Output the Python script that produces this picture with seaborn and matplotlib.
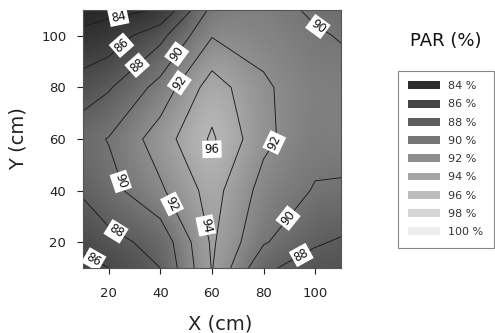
import numpy as np
import matplotlib
matplotlib.use("Agg")
import matplotlib.pyplot as plt
from matplotlib.colors import Normalize
from matplotlib.patches import Patch
import seaborn as sns

# Measurement grid (cm) and PAR values (% of open sky) at each node, rows ordered by Y
x_cm = [10, 20, 40, 60, 80, 100, 110]
y_cm = [10, 20, 40, 60, 80, 100, 110]
par_y10 = [85.6, 86.0, 88.0, 94.1, 88.3, 87.2, 87.0]
par_y20 = [86.3, 87.45, 88.6, 94.3, 90.2, 88.2, 87.8]
par_y40 = [88.3, 89.3, 91.7, 94.8, 91.26, 89.86, 89.7]
par_y60 = [89.3, 90.1, 93.0, 96.3, 92.47, 90.6, 90.9]
par_y80 = [86.9, 87.8, 90.7, 95.0, 92.3, 90.8, 90.9]
par_y100 = [84.4, 84.8, 87.44, 91.9, 91.3, 90.3, 89.85]
par_y110 = [83.3, 83.6, 84.1, 90.6, 91.0, 89.6, 89.3]

contour_levels = [84, 86, 88, 90, 92, 94, 96]
legend_levels = [84, 86, 88, 90, 92, 94, 96, 98, 100]
legend_labels = [f"{v} %" for v in legend_levels]

# where the contour values are printed
label_spots = [(24, 106), (25.5, 95.7), (14, 13), (32, 87.5), (23.6, 25.5),
               (92.8, 18.3), (46.8, 92.6), (26, 44), (86.4, 31.8), (100, 102),
               (47.6, 81.6), (43.7, 34.4), (82, 60), (60, 27), (58.5, 54)]

sns.set_theme(style="ticks")
plt.rcParams["font.family"] = ["DejaVu Sans"]

X = np.array(x_cm, float)
Y = np.array(y_cm, float)
Z = np.array([par_y10, par_y20, par_y40, par_y60, par_y80, par_y100, par_y110])

# smooth shaded background: bilinear resampling of the grid, then a soft blur
n = 400
fx = np.linspace(X.min(), X.max(), n)
fy = np.linspace(Y.min(), Y.max(), n)
rows = np.array([np.interp(fx, X, r) for r in Z])
fine = np.array([np.interp(fy, Y, rows[:, j]) for j in range(n)]).T


def blur(a, sigma):
    r = int(3 * sigma)
    k = np.exp(-0.5 * (np.arange(-r, r + 1) / sigma) ** 2)
    k /= k.sum()
    a = np.pad(a, r, mode="edge")
    a = np.apply_along_axis(lambda v: np.convolve(v, k, mode="valid"), 0, a)
    a = np.apply_along_axis(lambda v: np.convolve(v, k, mode="valid"), 1, a)
    return a


shade = blur(fine, 18)

cmap = sns.blend_palette(["#161616", "#f8f8f8"], as_cmap=True)
norm = Normalize(vmin=82, vmax=101)

fig = plt.figure(figsize=(4.95, 3.33), dpi=100)
ax = fig.add_axes([83 / 495, 1 - 268 / 333, 258 / 495, 258 / 333])

ax.imshow(shade, extent=[X.min(), X.max(), Y.min(), Y.max()], origin="lower",
          cmap=cmap, norm=norm, aspect="auto", interpolation="bilinear")
cs = ax.contour(X, Y, Z, levels=contour_levels, colors="#1a1a1a", linewidths=0.65)
texts = ax.clabel(cs, fmt="%d", fontsize=8.5, inline=True, inline_spacing=2,
                  manual=label_spots, colors="#111111")
for t in texts:
    t.set_bbox(dict(facecolor="white", edgecolor="none", pad=1.5))

ax.set_xlim(10, 110)
ax.set_ylim(10, 110)
ax.set_xticks([20, 40, 60, 80, 100])
ax.set_yticks([20, 40, 60, 80, 100])
ax.tick_params(axis="both", direction="out", length=4, width=0.8,
               colors="#222222", labelsize=9.5)
ax.tick_params(axis="x", pad=10)
ax.tick_params(axis="y", pad=8)
for s in ax.spines.values():
    s.set_visible(True)
    s.set_linewidth(0.8)
    s.set_color("#555555")

ax.set_xlabel("X (cm)", fontsize=14, color="#222222")
ax.set_ylabel("Y (cm)", fontsize=14, color="#222222")
ax.xaxis.set_label_coords(0.53, -0.18)
ax.yaxis.set_label_coords(-0.215, 0.5)

handles = [Patch(facecolor=cmap(norm(v)), edgecolor="none") for v in legend_levels]
leg = fig.legend(handles, legend_labels, loc="upper left",
                 bbox_to_anchor=(397.7 / 495, 1 - 70.7 / 333), borderaxespad=0,
                 fontsize=8, handlelength=2.9, handleheight=0.72,
                 labelspacing=0.74, handletextpad=0.72, borderpad=0.95,
                 fancybox=False, framealpha=1, edgecolor="#888888")
leg.get_frame().set_linewidth(0.8)
for t in leg.get_texts():
    t.set_color("#333333")

fig.text(446 / 495, 1 - 41 / 333, "PAR (%)", ha="center", va="center",
         fontsize=13, color="#111111")

fig.savefig("out.png", dpi=100)
